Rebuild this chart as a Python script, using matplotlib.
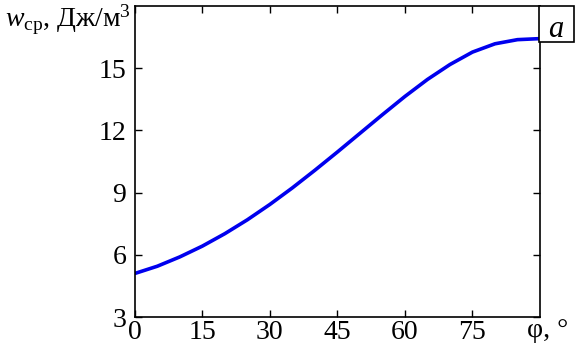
import matplotlib
matplotlib.use('Agg')
import matplotlib.pyplot as plt
from matplotlib.patches import Rectangle

# data
phi = [0, 5, 10, 15, 20, 25, 30, 35, 40, 45, 50, 55, 60, 65, 70, 75, 80, 85, 90]
w_sr = [5.1, 5.45, 5.9, 6.42, 7.02, 7.69, 8.43, 9.23, 10.08, 10.96, 11.86,
        12.76, 13.64, 14.46, 15.18, 15.78, 16.18, 16.38, 16.43]
xticks = [0, 15, 30, 45, 60, 75]
yticks = [3, 6, 9, 12, 15]

plt.rcParams['font.family'] = ['Liberation Serif', 'DejaVu Serif']
plt.rcParams['mathtext.fontset'] = 'custom'
plt.rcParams['mathtext.it'] = 'Liberation Serif:italic'
plt.rcParams['mathtext.rm'] = 'Liberation Serif'

fig = plt.figure(figsize=(5.76, 3.57), dpi=100)
ax = fig.add_axes([0.234, 0.112, 0.7035, 0.871])

ax.plot(phi, w_sr, color='#0000ee', lw=2.6, solid_capstyle='butt')

ax.set_xlim(0, 90)
ax.set_ylim(3, 18)
ax.set_xticks(xticks)
ax.set_yticks(yticks)
ax.tick_params(direction='in', top=True, right=True, length=5, width=1,
               labelsize=20)
ax.tick_params(axis='x', pad=2)
ax.tick_params(axis='y', pad=6)
for s in ax.spines.values():
    s.set_linewidth(1.2)

fig.text(0.008, 0.925, r'$w_{\mathrm{ср}}$, Дж/м$^3$', fontsize=20, ha='left', va='baseline')
fig.text(0.915, 0.056, 'φ, °', fontsize=20, ha='left', va='baseline')

# label box "a" outside the axes, at the top right
fig.add_artist(Rectangle((0.9358, 0.8824), 0.0607, 0.1006, transform=fig.transFigure,
                         fc='white', ec='black', lw=1.2))
fig.text(0.965, 0.918, 'a', fontsize=22, style='italic', ha='center', va='center')

fig.savefig('out.png', dpi=100)
